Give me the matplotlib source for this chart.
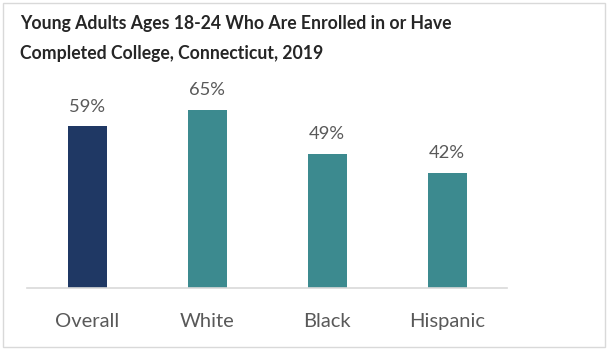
import matplotlib.pyplot as plt
from matplotlib.patches import Rectangle

categories = ['Overall', 'White', 'Black', 'Hispanic']
values = [59, 65, 49, 42]
labels = ['59%', '65%', '49%', '42%']
colors = ['#1F3864', '#3C8A8F', '#3C8A8F', '#3C8A8F']

W, H = 608, 350
fig = plt.figure(figsize=(W / 100, H / 100), dpi=100)
plt.rcParams['font.family'] = ['Lato', 'DejaVu Sans']

# axes placed in pixel terms: baseline at y=288, spans x 27..507
ax = fig.add_axes([27 / W, (H - 288) / H, 480 / W, (288 - 60) / H])
x = range(len(categories))
ax.bar(x, values, width=0.325, color=colors)
ax.set_xlim(-0.5, 3.5)
ax.set_ylim(0, (288 - 60) / 2.74)

for xi, v, lab in zip(x, values, labels):
    ax.annotate(lab, (xi, v), xytext=(0, 8.5), textcoords='offset points',
                ha='center', va='bottom', fontsize=13.2, color='#595959')

ax.set_xticks(list(x))
ax.set_xticklabels(categories, fontsize=14.5, color='#595959')
ax.tick_params(axis='x', length=0, pad=18)
ax.set_yticks([])
for s in ['top', 'right', 'left']:
    ax.spines[s].set_visible(False)
ax.spines['bottom'].set_color('#D9D9D9')
ax.spines['bottom'].set_linewidth(1.2)

fig.text(20 / W, 1 - 23 / H, 'Young Adults Ages 18-24 Who Are Enrolled in or Have',
         fontsize=12.7, fontweight='bold', color='#262626', va='center')
fig.text(20 / W, 1 - 53 / H, 'Completed College, Connecticut, 2019',
         fontsize=12.7, fontweight='bold', color='#262626', va='center')

fig.patches.append(Rectangle((3 / W, 3 / H), (W - 6) / W, (H - 6) / H,
                             transform=fig.transFigure, fill=False,
                             edgecolor='#D9D9D9', linewidth=1))

fig.savefig('out.png', dpi=100)
